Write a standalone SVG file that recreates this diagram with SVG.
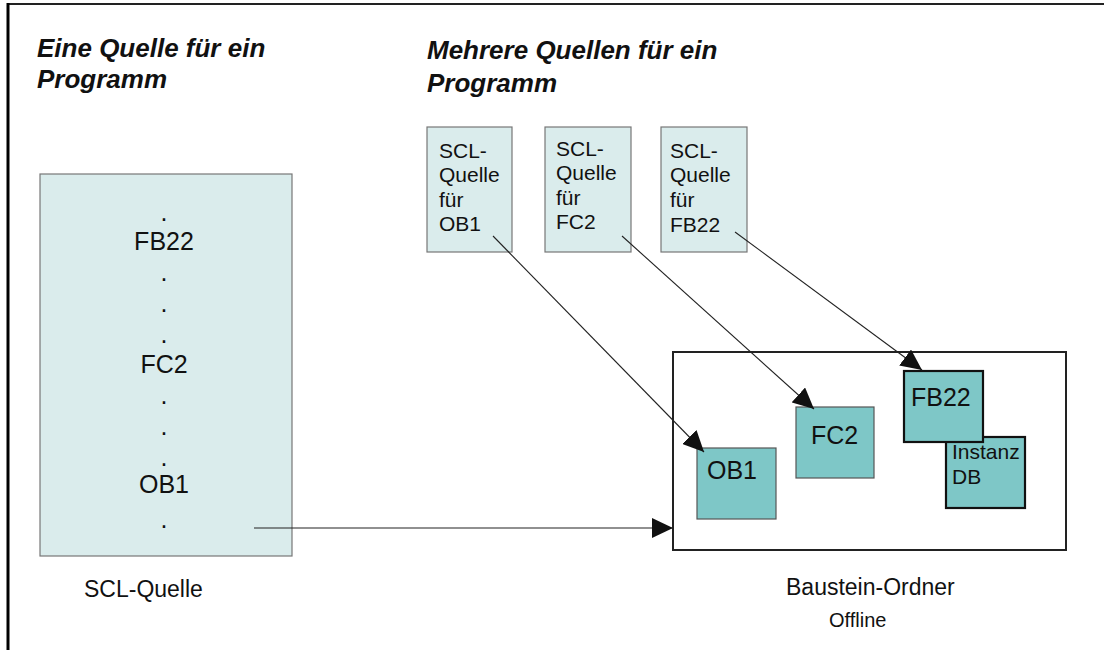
<svg xmlns="http://www.w3.org/2000/svg" width="1104" height="650" viewBox="0 0 1104 650">
  <style>
    text { font-family: "Liberation Sans", Arial, sans-serif; fill: #111; }
    .title { font-size: 26px; font-weight: bold; font-style: italic; }
    .src { fill: #daecec; stroke: #777; stroke-width: 1.2; }
    .blk { fill: #7ec7c7; stroke: #555; stroke-width: 1.2; }
    .blk2 { fill: #7ec7c7; stroke: #111; stroke-width: 2.2; }
    .list { font-size: 25px; text-anchor: middle; }
    .small { font-size: 21px; }
    .blktxt { font-size: 25px; }
    .cap { font-size: 23px; }
    .conn { stroke: #222; stroke-width: 1.1; fill: none; }
  </style>
  <defs>
    <marker id="arrow" markerWidth="21" markerHeight="20" refX="21" refY="10" orient="auto" markerUnits="userSpaceOnUse">
      <path d="M0,0 L21,10 L0,20 Z" fill="#111"/>
    </marker>
  </defs>

  <!-- page frame -->
  <g id="frame">
    <line x1="7" y1="4" x2="1104" y2="4" stroke="#222" stroke-width="2"/>
    <line x1="8" y1="3" x2="8" y2="650" stroke="#000" stroke-width="3"/>
  </g>

  <!-- headings -->
  <g id="headings">
    <text class="title" x="37" y="57">Eine Quelle für ein</text>
    <text class="title" x="37" y="88">Programm</text>
    <text class="title" x="427" y="59">Mehrere Quellen für ein</text>
    <text class="title" x="427" y="92">Programm</text>
  </g>

  <!-- single source file -->
  <g id="scl-quelle">
    <rect class="src" x="40" y="174" width="252" height="382"/>
    <text class="list" x="164" y="221">.</text>
    <text class="list" x="164" y="250">FB22</text>
    <text class="list" x="164" y="281">.</text>
    <text class="list" x="164" y="312">.</text>
    <text class="list" x="164" y="343">.</text>
    <text class="list" x="164" y="373">FC2</text>
    <text class="list" x="164" y="404">.</text>
    <text class="list" x="164" y="435">.</text>
    <text class="list" x="164" y="466">.</text>
    <text class="list" x="164" y="493">OB1</text>
    <text class="list" x="164" y="528">.</text>
    <text class="cap" x="84" y="597">SCL-Quelle</text>
  </g>

  <!-- separate source files -->
  <g id="quelle-ob1">
    <rect class="src" x="427" y="127" width="85" height="125"/>
    <text class="small" x="439" y="158">SCL-</text>
    <text class="small" x="439" y="182">Quelle</text>
    <text class="small" x="439" y="207">für</text>
    <text class="small" x="439" y="231">OB1</text>
  </g>
  <g id="quelle-fc2">
    <rect class="src" x="545" y="127" width="86" height="125"/>
    <text class="small" x="556" y="156">SCL-</text>
    <text class="small" x="556" y="180">Quelle</text>
    <text class="small" x="556" y="205">für</text>
    <text class="small" x="556" y="229">FC2</text>
  </g>
  <g id="quelle-fb22">
    <rect class="src" x="661" y="127" width="86" height="125"/>
    <text class="small" x="670" y="158">SCL-</text>
    <text class="small" x="670" y="182">Quelle</text>
    <text class="small" x="670" y="207">für</text>
    <text class="small" x="670" y="232">FB22</text>
  </g>

  <!-- block folder -->
  <g id="baustein-ordner">
    <rect x="673" y="352" width="393" height="198" fill="#fff" stroke="#222" stroke-width="2"/>
    <text class="cap" x="786" y="595">Baustein-Ordner</text>
    <text x="829" y="627" font-size="20">Offline</text>
  </g>
  <g id="ob1">
    <rect class="blk" x="697" y="448" width="79" height="71"/>
    <text class="blktxt" x="707" y="479">OB1</text>
  </g>
  <g id="fc2">
    <rect class="blk" x="796" y="407" width="78" height="71"/>
    <text class="blktxt" x="811" y="444">FC2</text>
  </g>
  <g id="instanz-db">
    <rect class="blk2" x="946" y="437" width="79" height="71"/>
    <text class="small" x="952" y="459">Instanz</text>
    <text class="small" x="952" y="484">DB</text>
  </g>
  <g id="fb22">
    <rect class="blk2" x="904" y="371" width="79" height="71"/>
    <text class="blktxt" x="911" y="406">FB22</text>
  </g>

  <!-- connectors -->
  <g id="connectors">
    <line class="conn" x1="254" y1="528" x2="673" y2="528" marker-end="url(#arrow)"/>
    <line class="conn" x1="493" y1="236" x2="704" y2="452" marker-end="url(#arrow)"/>
    <line class="conn" x1="622" y1="236" x2="814" y2="409" marker-end="url(#arrow)"/>
    <line class="conn" x1="735" y1="232" x2="922" y2="370" marker-end="url(#arrow)"/>
  </g>
</svg>
